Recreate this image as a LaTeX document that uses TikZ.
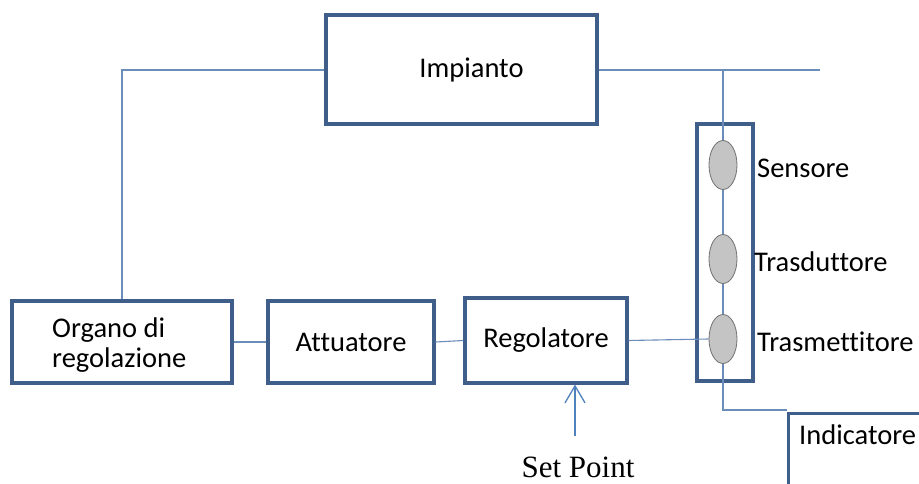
\documentclass[tikz,border=0pt]{standalone}
\usepackage{fontspec}
\setmainfont{Carlito}[Ligatures=NoCommon]
\newfontfamily\serifset{Liberation Serif}
\usetikzlibrary{arrows.meta,shapes.geometric}
\definecolor{boxline}{HTML}{3F5F8A}
\definecolor{conn}{HTML}{6A8DBA}
\definecolor{arrowblue}{HTML}{4F81BD}
\definecolor{ellfill}{HTML}{C4C4C4}
\definecolor{ellline}{HTML}{707070}
\tikzset{
  blk/.style={draw=boxline, line width=3.2pt, rectangle, inner sep=0pt, font=\fontsize{28.5}{31}\selectfont},
  lbl/.style={inner sep=0pt, font=\fontsize{28.5}{31}\selectfont, anchor=west},
  cn/.style={draw=conn, line width=1.1pt},
  sens/.style={draw=ellline, fill=ellfill, ellipse, line width=0.8pt, minimum width=28pt, minimum height=49pt, inner sep=0pt}
}
\begin{document}
\begin{tikzpicture}[x=1pt,y=-1pt]
\path[use as bounding box, fill=white] (0,0) rectangle (919,484);
\clip (0,0) rectangle (919,484);
% boxes
\node[blk, minimum width=271pt, minimum height=109pt] (imp) at (461.5,69.5) {\hspace*{20pt}Impianto};
\node[blk, minimum width=220pt, minimum height=82pt] (org) at (122,342) {};
\node[align=left, inner sep=0pt, font=\fontsize{28.5}{30}\selectfont, anchor=west] (orgt) at (52,345) {Organo di\\regolazione};
\node[blk, minimum width=166pt, minimum height=82pt] (att) at (351,342) {Attuatore};
\node[blk, minimum width=162pt, minimum height=85pt] (reg) at (546,340.5) {Regolatore};
\node[blk, minimum width=56pt, minimum height=257pt] (sbox) at (725,252.5) {};
\node[blk, minimum width=180pt, minimum height=110pt, anchor=north west] (ind) at (787,412) {};
\node[lbl] (indt) at (799,435) {Indicatore};
% sensors
\coordinate (top) at (723,70);
\coordinate (rend) at (820,70);
\node[sens] (e1) at (723,165) {};
\node[sens] (e2) at (723,259) {};
\node[sens] (e3) at (723,339) {};
\node[lbl] (l1) at (757,168) {Sensore};
\node[lbl] (l2) at (754,262) {Trasduttore};
\node[lbl] (l3) at (757,342) {Trasmettitore};
% connectors
\draw[cn] (imp.west |- 0,70) -| (org.north);
\draw[cn] (imp.east |- 0,70) -- (rend);
\draw[cn] (top) -- (e1.north);
\draw[cn] (e1.south) -- (e2.north);
\draw[cn] (e2.south) -- (e3.north);
\draw[cn] (e3.south) |- (ind.west |- 0,410);
\draw[cn] (org.east) -- (att.west);
\draw[cn] (att.east) -- (reg.west);
\draw[cn] (reg.east) -- (e3.west);
% set point
\coordinate (sp) at (575,436);
\draw[draw=arrowblue, line width=1.3pt, -{Straight Barb[length=17pt,width=20pt]}] (sp) -- (sp |- reg.south);
\node[inner sep=0pt, font=\serifset\fontsize{31}{34}\selectfont] (spt) at (578,467) {Set Point};
\end{tikzpicture}
\end{document}
